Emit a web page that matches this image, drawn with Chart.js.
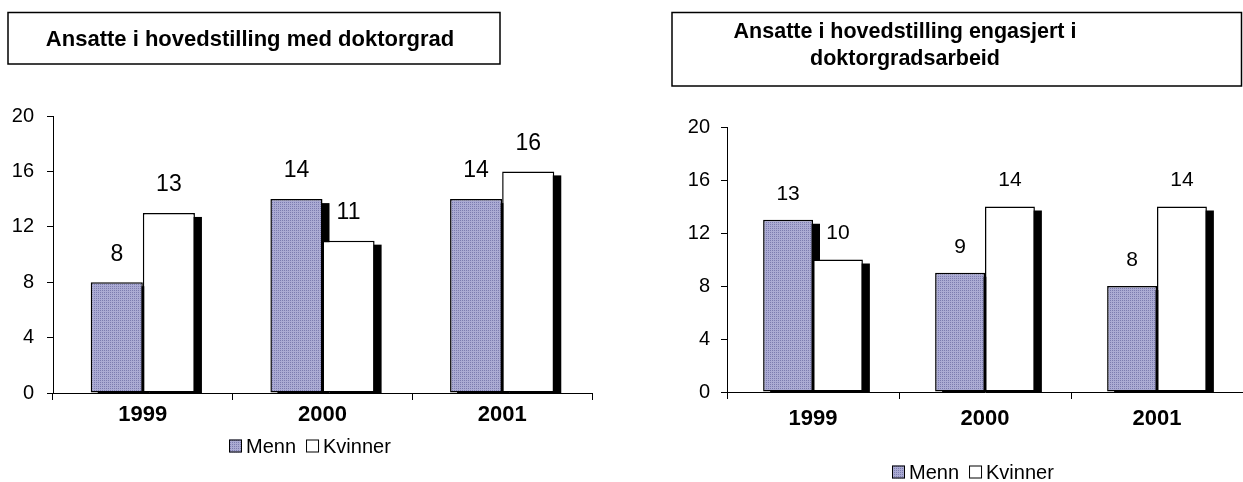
<!DOCTYPE html>
<html>
<head>
<meta charset="utf-8">
<script src="https://cdn.jsdelivr.net/npm/chart.js@4.4.0/dist/chart.umd.min.js"></script>
<style>
  body { margin: 0; background: #fff; width: 1243px; height: 482px; overflow: hidden; position: relative; }
  .wrap { position: absolute; top: 0; height: 482px; }
</style>
</head>
<body>
<div class="wrap" style="left:0;width:620px"><canvas id="chartPhd"></canvas></div>
<div class="wrap" style="left:620px;width:623px"><canvas id="chartWork"></canvas></div>
<script>
// data
const years = ['1999', '2000', '2001'];
const seriesNames = ['Menn', 'Kvinner'];
const phdMenn = [8, 14, 14];
const phdKvinner = [13, 11, 16];
const workMenn = [13, 9, 8];
const workKvinner = [10, 14, 14];
const yMin = 0, yMax = 20, yStep = 4;
const titlePhd = ['Ansatte i hovedstilling med doktorgrad'];
const titleWork = ['Ansatte i hovedstilling engasjert i', 'doktorgradsarbeid'];

const FONT = '"Liberation Sans", Arial, sans-serif';

// dotted lavender fill like the original
function dotPattern() {
  const p = document.createElement('canvas');
  p.width = 2; p.height = 2;
  const g = p.getContext('2d');
  g.fillStyle = '#ababd3';
  g.fillRect(0, 0, 2, 2);
  g.fillStyle = '#7c7caf';
  g.fillRect(0, 0, 1, 1);
  return g.createPattern(p, 'repeat');
}
const mennFill = dotPattern();

// title box, bar shadows, value labels, legend
const decor = {
  id: 'decor',
  beforeDatasetsDraw(chart) {
    const o = chart.options.plugins.decor;
    const ctx = chart.ctx;
    const base = chart.scales.y.getPixelForValue(0);
    ctx.save();
    ctx.fillStyle = '#000';
    chart.data.datasets.forEach((ds, i) => {
      chart.getDatasetMeta(i).data.forEach(bar => {
        const left = bar.x - bar.width / 2 + o.shadowDx;
        ctx.fillRect(left, bar.y + o.shadowDy, bar.width, base - bar.y - o.shadowDy);
      });
    });
    ctx.restore();
  },
  afterDatasetsDraw(chart) {
    const o = chart.options.plugins.decor;
    const ctx = chart.ctx;
    ctx.save();
    ctx.fillStyle = '#000';
    ctx.font = o.valueSize + 'px ' + FONT;
    ctx.textAlign = 'center';
    ctx.textBaseline = 'middle';
    chart.data.datasets.forEach((ds, i) => {
      chart.getDatasetMeta(i).data.forEach((bar, j) => {
        ctx.fillText(String(ds.data[j]), bar.x, bar.y - o.valueGap);
      });
    });
    ctx.restore();
  },
  afterDraw(chart) {
    const o = chart.options.plugins.decor;
    const ctx = chart.ctx;
    ctx.save();
    // title
    ctx.strokeStyle = '#000';
    ctx.lineWidth = 1.5;
    ctx.strokeRect(o.box[0], o.box[1], o.box[2], o.box[3]);
    ctx.fillStyle = '#000';
    ctx.font = 'bold ' + o.titleSize + 'px ' + FONT;
    ctx.textAlign = 'center';
    ctx.textBaseline = 'alphabetic';
    o.title.forEach((line, k) => ctx.fillText(line, o.titleX, o.titleY + k * o.titleLine));
    // legend
    ctx.font = o.legendSize + 'px ' + FONT;
    ctx.textBaseline = 'middle';
    ctx.textAlign = 'left';
    const box = 13, gap = 4, between = 10;
    let x = o.legendX;
    const y = o.legendY;
    chart.data.datasets.forEach(ds => {
      ctx.fillStyle = ds.backgroundColor;
      ctx.fillRect(x, y - box / 2, box, box);
      ctx.lineWidth = 1;
      ctx.strokeStyle = '#000';
      ctx.strokeRect(x + 0.5, y - box / 2 + 0.5, box - 1, box - 1);
      ctx.fillStyle = '#000';
      ctx.fillText(ds.label, x + box + gap, y + 1);
      x += box + gap + ctx.measureText(ds.label).width + between;
    });
    ctx.restore();
  }
};

function makeChart(id, menn, kvinner, cfg) {
  return new Chart(document.getElementById(id), {
    type: 'bar',
    data: {
      labels: years,
      datasets: [
        { label: seriesNames[0], data: menn, backgroundColor: mennFill, borderColor: '#000', borderWidth: 1.5, borderSkipped: false },
        { label: seriesNames[1], data: kvinner, backgroundColor: '#fff', borderColor: '#000', borderWidth: 1.5, borderSkipped: false }
      ]
    },
    options: {
      responsive: true,
      maintainAspectRatio: false,
      animation: false,
      events: [],
      datasets: { bar: { categoryPercentage: 0.58, barPercentage: 1 } },
      layout: { padding: { top: cfg.top, right: cfg.right, bottom: cfg.bottom, left: 0 } },
      plugins: {
        legend: { display: false },
        tooltip: { enabled: false },
        decor: cfg.decor
      },
      scales: {
        x: {
          grid: { offset: true, drawOnChartArea: false, color: '#000', tickLength: 7 },
          border: { color: '#000', width: 1 },
          ticks: { color: '#000', font: { family: FONT, size: cfg.yearSize, weight: 'bold' }, padding: cfg.yearPad },
          afterFit(s) { s.height = cfg.xh; }
        },
        y: {
          min: yMin, max: yMax,
          grid: { drawOnChartArea: false, color: '#000', tickLength: 6 },
          border: { color: '#000', width: 1 },
          ticks: { stepSize: yStep, color: '#000', font: { family: FONT, size: cfg.tickSize }, padding: cfg.tickPad },
          afterFit(s) { s.width = cfg.yw; }
        }
      }
    },
    plugins: [decor]
  });
}

makeChart('chartPhd', phdMenn, phdKvinner, {
  top: 116, right: 28, bottom: 39, xh: 50, yw: 53,
  yearSize: 22, yearPad: 2, tickSize: 20, tickPad: 13,
  decor: {
    title: titlePhd, titleSize: 22, titleX: 250, titleY: 46, titleLine: 27,
    box: [8, 12.5, 492, 51.5],
    shadowDx: 7, shadowDy: 4, valueSize: 23, valueGap: 28,
    legendSize: 20, legendX: 229, legendY: 446
  }
});

makeChart('chartWork', workMenn, workKvinner, {
  top: 127, right: 0, bottom: 40, xh: 50, yw: 107,
  yearSize: 22, yearPad: 7, tickSize: 20, tickPad: 11,
  decor: {
    title: titleWork, titleSize: 21.5, titleX: 285, titleY: 38, titleLine: 27,
    box: [52, 12.5, 569.5, 73.5],
    shadowDx: 7, shadowDy: 4, valueSize: 21, valueGap: 26,
    legendSize: 20, legendX: 272, legendY: 472
  }
});
</script>
</body>
</html>
